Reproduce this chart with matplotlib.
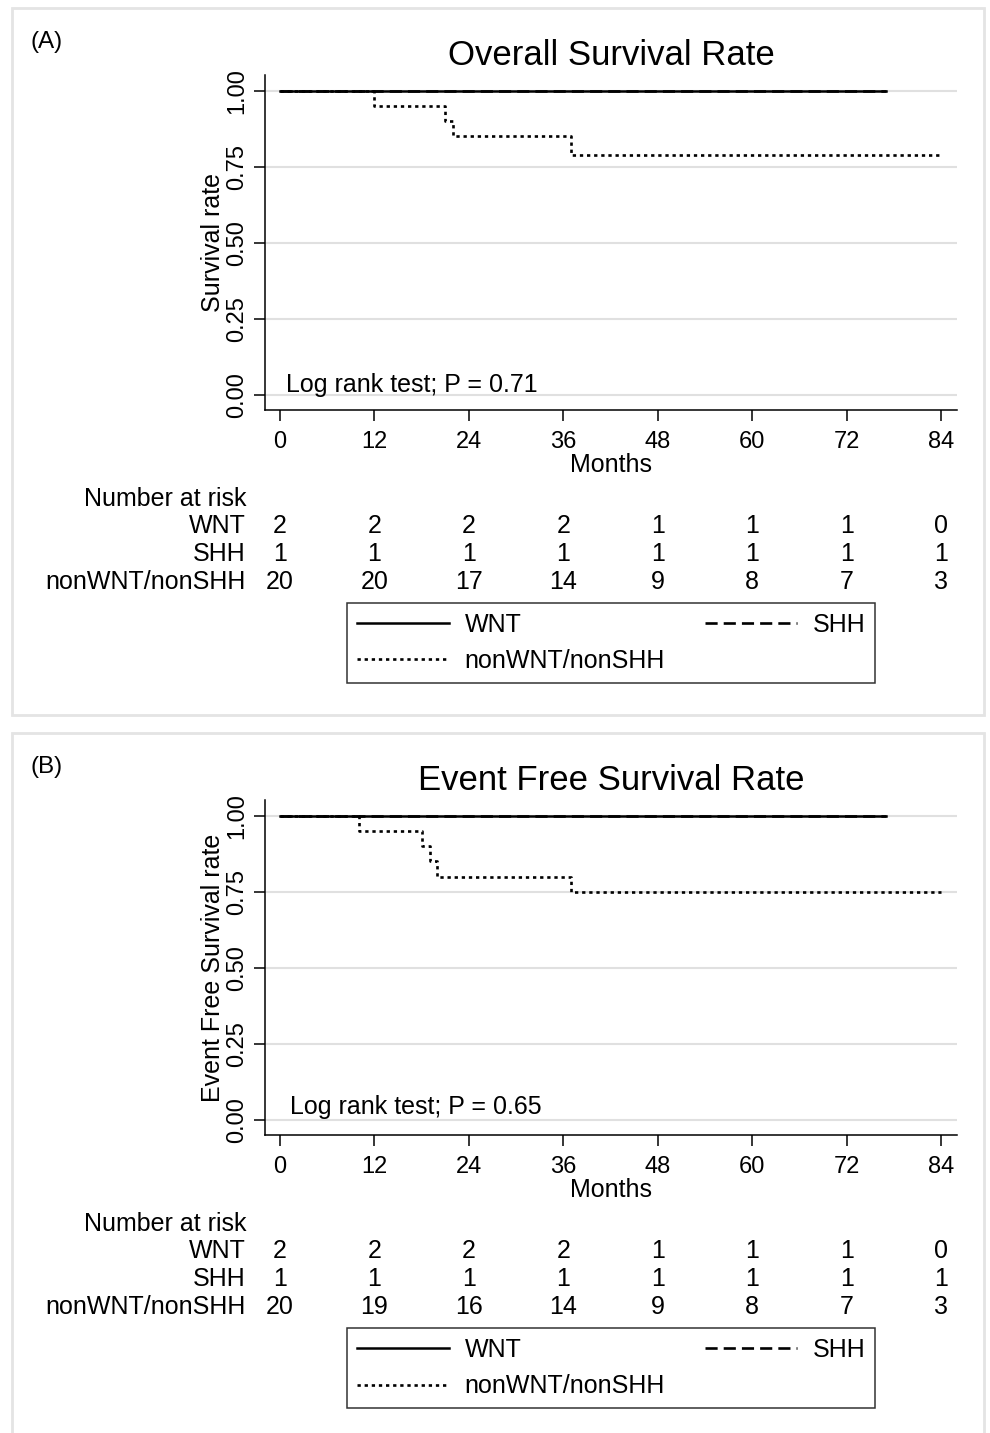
import matplotlib
matplotlib.use("Agg")
import matplotlib.pyplot as plt
import matplotlib.transforms as mtransforms
from matplotlib.lines import Line2D
from matplotlib.patches import Rectangle

plt.rcParams['font.family'] = ['Liberation Sans', 'DejaVu Sans']

# ==========================
# DATA
# ==========================

months_ticks = [0, 12, 24, 36, 48, 60, 72, 84]
groups = ["WNT", "SHH", "nonWNT/nonSHH"]

# panel A - overall survival
os_wnt_t = [0, 77]
os_wnt_s = [1.0, 1.0]
os_shh_t = [0, 77]
os_shh_s = [1.0, 1.0]
os_non_t = [0, 12, 21, 22, 37, 84]
os_non_s = [1.0, 0.95, 0.90, 0.85, 0.79, 0.79]
os_risk_wnt = [2, 2, 2, 2, 1, 1, 1, 0]
os_risk_shh = [1, 1, 1, 1, 1, 1, 1, 1]
os_risk_non = [20, 20, 17, 14, 9, 8, 7, 3]
os_p = "Log rank test; P = 0.71"

# panel B - event free survival
efs_wnt_t = [0, 77]
efs_wnt_s = [1.0, 1.0]
efs_shh_t = [0, 77]
efs_shh_s = [1.0, 1.0]
efs_non_t = [0, 10, 18, 19, 20, 37, 84]
efs_non_s = [1.0, 0.95, 0.90, 0.85, 0.80, 0.75, 0.75]
efs_risk_wnt = [2, 2, 2, 2, 1, 1, 1, 0]
efs_risk_shh = [1, 1, 1, 1, 1, 1, 1, 1]
efs_risk_non = [20, 19, 16, 14, 9, 8, 7, 3]
efs_p = "Log rank test; P = 0.65"

W, H = 990, 1433
fig = plt.figure(figsize=(W / 100, H / 100), dpi=100)

DOT = (0, (1.25, 1.45))
DASH = (0, (4.6, 2.3))


def fx(px):
    return px / W


def fy(py):
    return 1 - py / H


def panel(top, letter, title, ylabel, curves, risks, ptext, ptext_xy):
    # light frame round the panel
    fig.patches.append(Rectangle((fx(12), fy(top + 707)), fx(972), 707 / H,
                                 transform=fig.transFigure, fill=False,
                                 edgecolor='#e4e4e4', lw=2))
    fig.text(fx(31), fy(top + 34), letter, fontsize=17.5, va='center')

    ax_top = top + 67
    ax_bot = top + 402
    ax = fig.add_axes([fx(265), fy(ax_bot), fx(692), (ax_bot - ax_top) / H])
    ax.set_xlim(-1.9, 86.0)
    ax.set_ylim(-0.049, 1.052)

    (wt, ws), (st, ss), (nt, ns) = curves
    ax.plot(st, ss, color='black', lw=1.9, ls=DASH, drawstyle='steps-post')
    ax.plot(nt, ns, color='black', lw=1.9, ls=DOT, drawstyle='steps-post')
    ax.plot(wt, ws, color='black', lw=1.8, drawstyle='steps-post')

    ax.set_xticks(months_ticks)
    ax.set_yticks([0, 0.25, 0.5, 0.75, 1.0])
    ax.set_yticklabels(["0.00", "0.25", "0.50", "0.75", "1.00"],
                       rotation=90, va='center')
    ax.tick_params(axis='both', length=8, width=1.1, labelsize=17)
    ax.tick_params(axis='y', pad=4)
    ax.tick_params(axis='x', pad=7)
    ax.grid(axis='y', color='#e0e0e0', lw=1.5)
    ax.set_axisbelow(True)
    for s in ['top', 'right']:
        ax.spines[s].set_visible(False)
    for s in ['left', 'bottom']:
        ax.spines[s].set_linewidth(1.1)

    ax.set_title(title, fontsize=25, pad=7, x=0.5)
    ax.set_ylabel(ylabel, fontsize=18, labelpad=1)
    ax.set_xlabel("Months", fontsize=18, labelpad=0)

    ax.text(ptext_xy[0], ptext_xy[1], ptext, fontsize=18, va='center')

    # number at risk table
    trans = mtransforms.blended_transform_factory(ax.transData, fig.transFigure)
    fig.text(fx(246), fy(ax_bot + 89), "Number at risk", fontsize=18,
             ha='right', va='center')
    for i, (name, vals) in enumerate(zip(groups, risks)):
        yy = fy(ax_bot + 116 + 28 * i)
        fig.text(fx(246), yy, name, fontsize=18, ha='right', va='center')
        for m, v in zip(months_ticks, vals):
            ax.text(m, yy, str(v), transform=trans, fontsize=18,
                    ha='center', va='center')

    handles = [Line2D([], [], color='black', lw=1.8),
               Line2D([], [], color='black', lw=1.9, ls=DOT),
               Line2D([], [], color='black', lw=1.9, ls=DASH)]
    labels = ["WNT", "nonWNT/nonSHH", "SHH"]
    leg = fig.legend(handles, labels, loc='center',
                     bbox_to_anchor=(fx(611), fy(ax_bot + 233)),
                     ncol=2, fontsize=18, frameon=True, fancybox=False,
                     handlelength=3.7, handletextpad=0.6, columnspacing=1.6,
                     borderpad=0.4, labelspacing=0.5, borderaxespad=0)
    leg.get_frame().set_edgecolor('black')
    leg.get_frame().set_linewidth(1.1)
    return ax


panel(8, "(A)", "Overall Survival Rate", "Survival rate",
      [(os_wnt_t, os_wnt_s), (os_shh_t, os_shh_s), (os_non_t, os_non_s)],
      [os_risk_wnt, os_risk_shh, os_risk_non], os_p, (0.8, 0.033))

panel(733, "(B)", "Event Free Survival Rate", "Event Free Survival rate",
      [(efs_wnt_t, efs_wnt_s), (efs_shh_t, efs_shh_s), (efs_non_t, efs_non_s)],
      [efs_risk_wnt, efs_risk_shh, efs_risk_non], efs_p, (1.3, 0.043))

plt.savefig("out.png", dpi=100)
plt.close()
